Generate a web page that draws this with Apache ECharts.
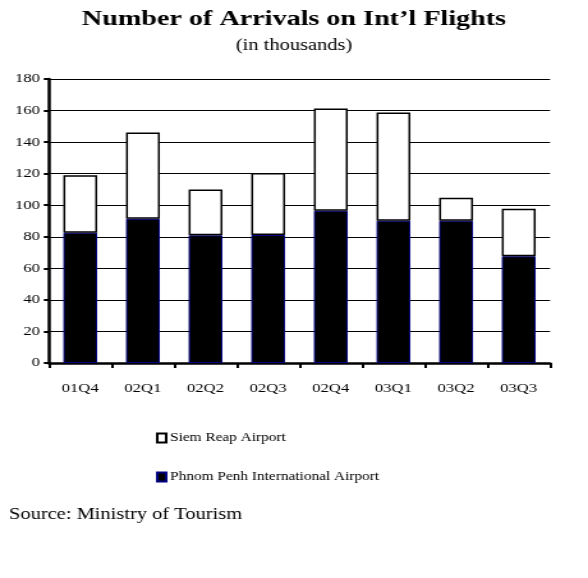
<!DOCTYPE html>
<html><head><meta charset="utf-8">
<script src="https://cdn.jsdelivr.net/npm/echarts@6/dist/echarts.min.js"></script>
<style>
html,body{margin:0;padding:0;background:#fff;overflow:hidden}
#wrap{width:588px;height:578px;overflow:hidden;position:relative}
#c{width:460px;height:578px;transform:scaleX(1.27826);transform-origin:0 0}
</style>
</head><body><div id="wrap"><div id="c"></div></div>
<script>
const categories = ["01Q4","02Q1","02Q2","02Q3","02Q4","03Q1","03Q2","03Q3"];
const phnomPenh = [82.6, 91.4, 80.9, 81.1, 96.5, 90.2, 90.2, 67.6];
const siemReap = [36.4, 54.7, 29.1, 39.3, 64.8, 68.6, 14.6, 30.2];
const yTicks = [0,20,40,60,80,100,120,140,160,180];

const font = "Liberation Serif";
const chart = echarts.init(document.getElementById('c'), null, {renderer:'canvas'});
chart.setOption({
  backgroundColor:'#fff',
  animation:false,
  title:[
    {text:"Number of Arrivals on Int\u2019l Flights", left:'center', top:3,
     textStyle:{fontFamily:font, fontSize:22, fontWeight:'bold', color:'#000'}},
    {text:"(in thousands)", left:'center', top:33,
     textStyle:{fontFamily:font, fontSize:16, fontWeight:'normal', color:'#000'}},
    {text:"Source: Ministry of Tourism", left:2, top:502,
     textStyle:{fontFamily:font, fontSize:16, fontWeight:'normal', color:'#000'}}
  ],
  legend:{
    orient:'vertical', left:122, top:432, padding:0, itemGap:27, itemWidth:7, itemHeight:9,
    icon:'rect',
    textStyle:{fontFamily:font, fontSize:12, color:'#000', padding:[12,0,0,-2]},
    data:["Siem Reap Airport","Phnom Penh International Airport"]
  },
  grid:{left:38.3, right:29.7, top:79, bottom:215},
  xAxis:{
    type:'category', data:categories,
    axisLine:{lineStyle:{color:'#000', width:2.5}},
    axisTick:{show:true, length:5, lineStyle:{color:'#000', width:2}},
    axisLabel:{fontFamily:font, fontSize:13, color:'#000', margin:19}
  },
  yAxis:{
    type:'value', min:0, max:180, interval:20,
    axisLine:{show:true, lineStyle:{color:'#000', width:2.5}},
    axisTick:{show:true, length:4, lineStyle:{color:'#000', width:2}},
    axisLabel:{fontFamily:font, fontSize:13, color:'#000', margin:7,
      formatter:v=> yTicks.includes(v)? String(v):''},
    splitLine:{lineStyle:{color:'#000', width:1}}
  },
  series:[
    {name:"Phnom Penh International Airport", type:'bar', stack:'a', data:phnomPenh,
     barWidth:'54%', itemStyle:{color:'#000', borderColor:'#000080', borderWidth:1}},
    {name:"Siem Reap Airport", type:'bar', stack:'a', data:siemReap,
     barWidth:'54%', itemStyle:{color:'#fff', borderColor:'#000', borderWidth:1.5}}
  ]
});
</script></body></html>
